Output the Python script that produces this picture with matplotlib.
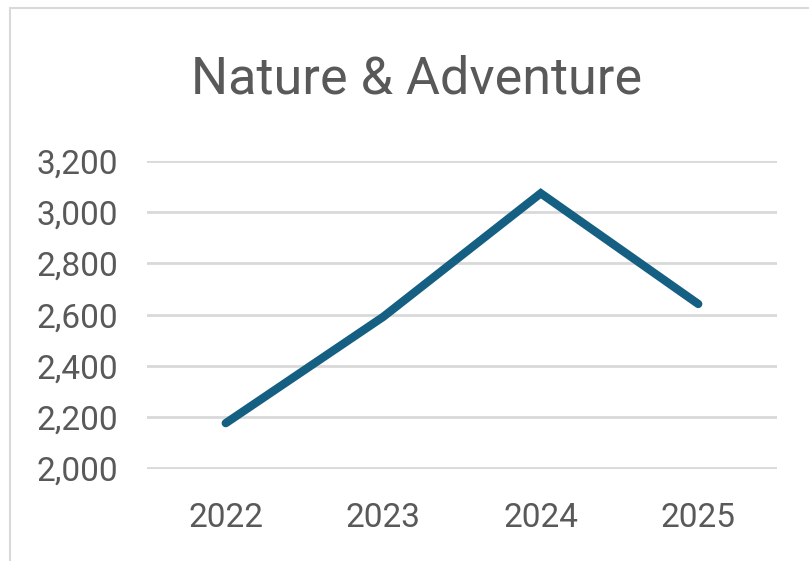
import matplotlib
matplotlib.use("Agg")
import matplotlib.pyplot as plt
from matplotlib.patches import Rectangle
from matplotlib.ticker import FuncFormatter, MultipleLocator

# data
years = ["2022", "2023", "2024", "2025"]
values = [2177, 2592, 3074, 2642]

title = "Nature & Adventure"
line_color = "#156082"
text_color = "#595959"
grid_color = "#D9D9D9"

plt.rcParams["font.family"] = ["Roboto", "DejaVu Sans"]

W, H = 809, 561
fig = plt.figure(figsize=(W / 100, H / 100), dpi=100)
ax = fig.add_axes([147 / W, 1 - 468.5 / H, 630 / W, (468.5 - 161) / H])

x = list(range(len(years)))
ax.plot(x, values, color=line_color, linewidth=6.0, solid_capstyle="round",
        solid_joinstyle="miter", zorder=3)

ax.set_xlim(-0.5, len(years) - 0.5)
ax.set_ylim(2000, 3200)
ax.yaxis.set_major_locator(MultipleLocator(200))
ax.yaxis.set_major_formatter(FuncFormatter(lambda v, p: f"{int(v):,}"))
ax.set_xticks(x)
ax.set_xticklabels(years)

ax.grid(True, axis="y", color=grid_color, linewidth=2.0, zorder=0)
ax.set_axisbelow(True)
for s in ax.spines.values():
    s.set_visible(False)
ax.tick_params(axis="both", length=0, labelsize=24, colors=text_color)
ax.tick_params(axis="y", pad=21)
ax.tick_params(axis="x", pad=24)

fig.text(417 / W, 1 - 93 / H, title, ha="center", va="baseline",
         fontsize=37.5, color=text_color)

# chart frame (partly outside the picture)
fig.patches.append(Rectangle((10 / W, -0.2), 1.2, 1.2 - 8 / H,
                             transform=fig.transFigure, fill=False,
                             edgecolor=grid_color, linewidth=1.5))

fig.savefig("out.png", dpi=100)
